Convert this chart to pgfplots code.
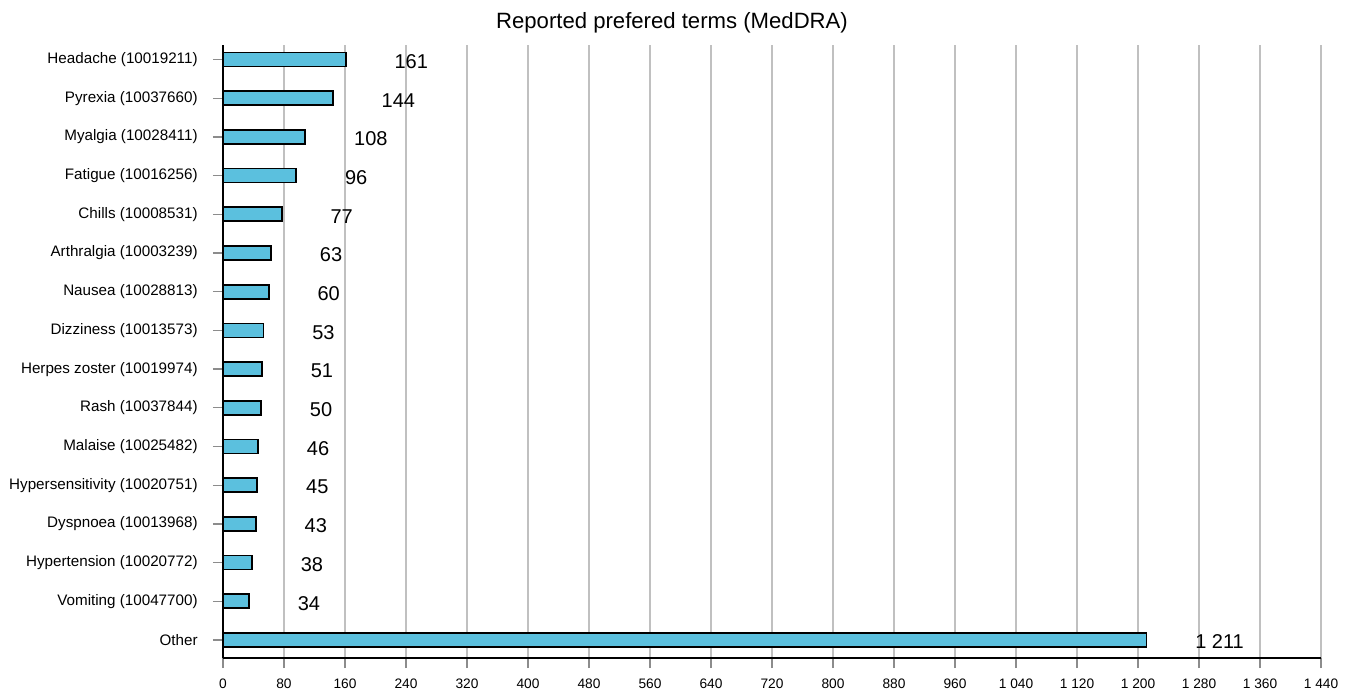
\documentclass[border=0pt]{standalone}
\usepackage{fontspec}
\setmainfont{Liberation Sans}
\usepackage{pgfplots}
\pgfplotsset{compat=1.18}
\usepackage{pgfplotstable}

\definecolor{barblue}{RGB}{91,192,222}
\definecolor{gridgray}{RGB}{192,192,192}
\definecolor{tickgray}{RGB}{140,140,140}

% Counts of reported preferred terms, bottom to top
\pgfplotstableread{
pos count
0  1211
1  34
2  38
3  43
4  45
5  46
6  50
7  51
8  53
9  60
10 63
11 77
12 96
13 108
14 144
15 161
}\termdata

\begin{document}
\begin{tikzpicture}
\begin{axis}[
  scale only axis,
  width=823.5pt, height=459.75pt,
  xbar, bar width=10.5pt,
  xmin=0, xmax=1440,
  ymin=-0.465, ymax=15.375,
  axis x line*=bottom, axis y line*=left,
  axis line style={black, line width=1.5pt},
  xtick={0,80,...,1440},
  ytick={0,...,15},
  yticklabels={Other,
    Vomiting (10047700),
    Hypertension (10020772),
    Dyspnoea (10013968),
    Hypersensitivity (10020751),
    Malaise (10025482),
    Rash (10037844),
    Herpes zoster (10019974),
    Dizziness (10013573),
    Nausea (10028813),
    Arthralgia (10003239),
    Chills (10008531),
    Fatigue (10016256),
    Myalgia (10028411),
    Pyrexia (10037660),
    Headache (10019211)},
  tick align=outside,
  major tick length=7.5pt,
  tick style={tickgray, line width=1pt},
  xmajorgrids,
  major grid style={gridgray, line width=1.1pt},
  /pgf/number format/.cd, 1000 sep={\ }, assume math mode=true,
  /pgfplots/.cd,
  xticklabel style={font=\fontsize{10.3}{12}\selectfont, yshift=-4.5pt},
  yticklabel style={font=\fontsize{11.4}{12}\selectfont, xshift=-8pt},
  point meta=x,
  nodes near coords,
  nodes near coords style={anchor=west, inner sep=0pt, xshift=36pt, yshift=-1.5pt,
    font=\fontsize{15}{15}\selectfont, black},
  clip=false,
]
\addplot[fill=barblue, draw=black, line width=1.3pt] table[x=count, y=pos] {\termdata};
\end{axis}
\node[anchor=base, font=\fontsize{16.6}{16}\selectfont] at (336.75pt,471.75pt) {Reported prefered terms (MedDRA)};
\path[use as bounding box] (-167.25pt,-24.75pt) rectangle (852.75pt,493.5pt);
\end{tikzpicture}
\end{document}
